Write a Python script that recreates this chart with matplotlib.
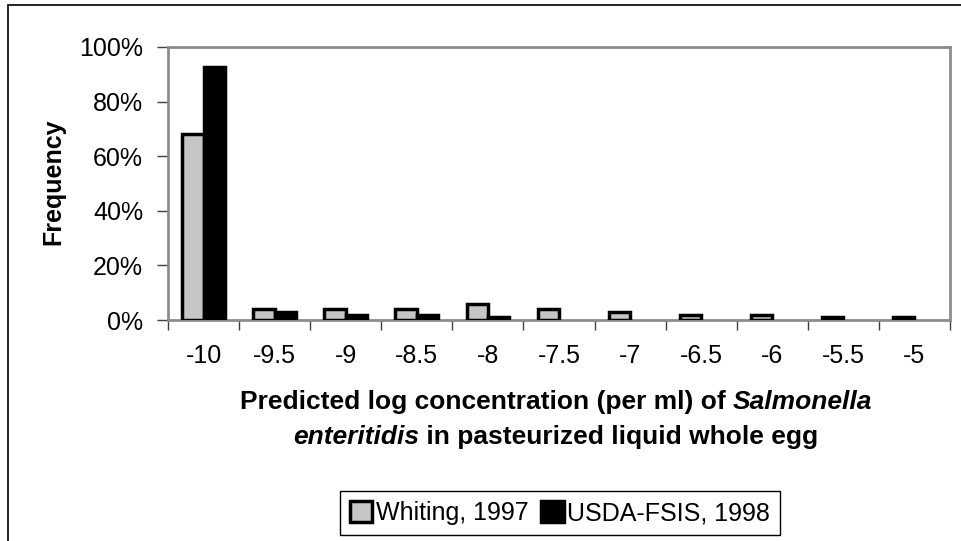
import numpy as np
import matplotlib
matplotlib.use('Agg')
import matplotlib.pyplot as plt
from matplotlib.patches import Patch, Rectangle
from matplotlib.ticker import FuncFormatter

plt.rcParams['font.family'] = ['Liberation Sans', 'DejaVu Sans']

# data (fractions)
categories = ['-10', '-9.5', '-9', '-8.5', '-8', '-7.5', '-7', '-6.5', '-6', '-5.5', '-5']
whiting = [0.68, 0.04, 0.04, 0.04, 0.06, 0.04, 0.03, 0.02, 0.02, 0.01, 0.01]
usda = [0.925, 0.03, 0.02, 0.02, 0.01, 0.0, 0.0, 0.0, 0.0, 0.0, 0.0]
series_names = ['Whiting, 1997', 'USDA-FSIS, 1998']

W, H = 962, 541
fig = plt.figure(figsize=(W / 100, H / 100), dpi=100)
ax = fig.add_axes([168 / W, 1 - 320 / H, (950 - 168) / W, (320 - 47) / H])

x = np.arange(len(categories))
bw = 0.3
gray = '#c6c6c6'
b1 = ax.bar(x - bw / 2, whiting, bw, color=gray, edgecolor='black', linewidth=2.5, zorder=3)
b2 = ax.bar(x + bw / 2, usda, bw, color='black', edgecolor='black', linewidth=2.5, zorder=3)
for p in list(b1) + list(b2):
    if p.get_height() == 0:
        p.set_visible(False)

ax.set_xlim(-0.5, len(categories) - 0.5)
ax.set_ylim(0, 1.0)
ax.set_yticks(np.arange(0, 1.01, 0.2))
ax.yaxis.set_major_formatter(FuncFormatter(lambda v, p: '%d%%' % round(v * 100)))
ax.tick_params(axis='y', length=8, width=1, labelsize=18, pad=10, color='#404040')

# ticks between categories, labels at centres
ax.set_xticks(np.arange(-0.5, len(categories), 1))
ax.set_xticklabels([])
ax.set_xticks(x, minor=True)
ax.set_xticklabels(categories, minor=True)
ax.tick_params(axis='x', which='major', length=7, width=1, color='#404040')
ax.tick_params(axis='x', which='minor', length=0, labelsize=18, pad=17)

for s in ax.spines.values():
    s.set_color('#8c8c8c')
    s.set_linewidth(2)

fig.text(53 / W, 1 - 182 / H, 'Frequency', rotation=90, fontsize=18, fontweight='bold',
         ha='center', va='center')

# two-line x label with italic species name
def mixed_line(yc, parts):
    r = fig.canvas.get_renderer()
    ts = [fig.text(0, 1 - yc / H, s, fontsize=19, fontweight='bold', fontstyle=st,
                   ha='left', va='center') for s, st in parts]
    ws = [t.get_window_extent(r).width for t in ts]
    xx = 556 - sum(ws) / 2
    for t, w in zip(ts, ws):
        t.set_x(xx / W)
        xx += w

mixed_line(402, [('Predicted log concentration (per ml) of ', 'normal'), ('Salmonella', 'italic')])
mixed_line(437, [('enteritidis', 'italic'), (' in pasteurized liquid whole egg', 'normal')])

handles = [Patch(facecolor=gray, edgecolor='black', linewidth=2.5),
           Patch(facecolor='black', edgecolor='black', linewidth=2.5)]
leg = fig.legend(handles, series_names, ncol=2, loc='lower center',
                 bbox_to_anchor=(560 / W, 1 - 535 / H), fontsize=18, frameon=True,
                 fancybox=False, framealpha=1, edgecolor='black',
                 handlelength=0.9, handleheight=0.9, handletextpad=0.15,
                 columnspacing=0.5, borderpad=0.4, borderaxespad=0)
leg.get_frame().set_linewidth(1)

# outer chart border (right and bottom run off the image)
fig.add_artist(Rectangle((8 / W, -0.1), 1.2, 1.1 - 5 / H, transform=fig.transFigure,
                         fill=False, edgecolor='black', linewidth=1.2, clip_on=False))

fig.savefig('out.png', dpi=100)
